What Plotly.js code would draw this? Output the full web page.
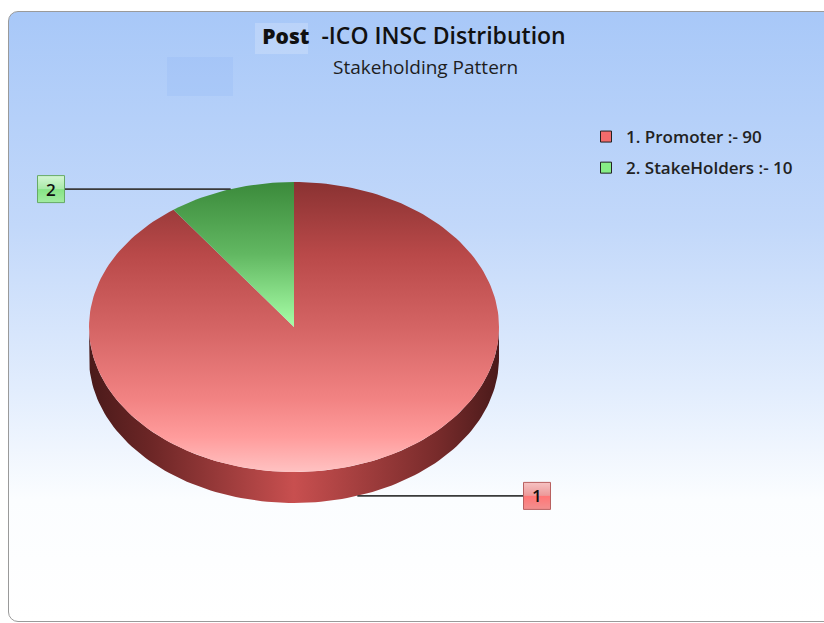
<!DOCTYPE html>
<html><head><meta charset="utf-8">
<script src="https://cdn.plot.ly/plotly-3.0.1.min.js"></script>
<style>
html,body{margin:0;padding:0;background:#fff;width:824px;height:623px;overflow:hidden}
#frame{position:absolute;left:8px;top:11px;width:840px;height:609px;border:1px solid #9a9a9a;border-radius:10px;
background:linear-gradient(to bottom,#a8c8f8 0%,#c2d8fa 35%,#e2edfd 62%,#fbfdff 80%,#ffffff 100%)}
#chart{position:absolute;left:0;top:0;width:824px;height:623px}
</style></head>
<body><div id="frame"></div><div id="chart"></div>
<script>
// ---- data ----
const categories = ['Promoter', 'StakeHolders'];
const values = [90, 10];
const sliceLabels = ['1', '2'];
const titleText = '<span style="font-size:21px;font-weight:800">Post</span>\u00A0 -ICO INSC Distribution';
const subtitleText = 'Stakeholding Pattern';

// ---- styles ----
const legendColors = ['#f26b6b', '#86ee86'];
const topScales = [
  [[0,'#8a3232'],[0.25,'#b94949'],[0.5,'#d46464'],[0.75,'#f28383'],[0.88,'#ff9c9c'],[1,'#ffc2c2']],
  [[0,'#3b8a3b'],[0.25,'#62b862'],[0.5,'#a8ffa8'],[1,'#ccffcc']]
];
const sideScales = [
  [[0,'#4a1a1a'],[0.15,'#6c2626'],[0.5,'#c84f4f'],[0.85,'#782b2b'],[1,'#4a1a1a']],
  [[0,'#1f4a1f'],[0.5,'#4fa04f'],[1,'#1f4a1f']]
];
const labelScales = [
  [[0,'#f6c2c2'],[0.48,'#ec9a9a'],[0.52,'#ff7676'],[1,'#f29090']],
  [[0,'#d4f6d4'],[0.48,'#aaeaaa'],[0.52,'#86e486'],[1,'#a2eca2']]
];
const labelBorder = ['#b86060', '#66aa66'];

// ---- geometry (pixel space) ----
const W = 824, H = 623;
const cx = 294, cy = 327, rx = 205, ry = 145, depth = 31;
const labelOffset = rx + 38;
const boxHalf = 13.5;

const total = values.reduce((a, b) => a + b, 0);
let acc = 0;
const slices = values.map(v => { const a0 = acc; acc += v / total * 360; return [a0, acc]; });
function pt(th, dy) { const r = th * Math.PI / 180; return [cx + rx * Math.sin(r), cy - ry * Math.cos(r) + (dy || 0)]; }
function arc(a0, a1, dy) {
  const n = Math.max(2, Math.ceil(Math.abs(a1 - a0) / 1.5));
  const xs = [], ys = [];
  for (let i = 0; i <= n; i++) { const p = pt(a0 + (a1 - a0) * i / n, dy); xs.push(p[0]); ys.push(p[1]); }
  return [xs, ys];
}

const traces = [];
// side faces (front half only)
slices.forEach((s, i) => {
  const a = Math.max(s[0], 90), b = Math.min(s[1], 270);
  if (b <= a) return;
  const top = arc(a, b, 0), bot = arc(b, a, depth);
  traces.push({
    type: 'scatter', mode: 'lines', x: top[0].concat(bot[0]), y: top[1].concat(bot[1]),
    fill: 'toself', line: {width: 0}, hoverinfo: 'skip', showlegend: false,
    fillgradient: {type: 'horizontal', colorscale: sideScales[i], start: cx - rx, stop: cx + rx}
  });
});
// top faces
slices.forEach((s, i) => {
  const a = arc(s[0], s[1], 0);
  traces.push({
    type: 'scatter', mode: 'lines', x: [cx].concat(a[0], [cx]), y: [cy].concat(a[1], [cy]),
    fill: 'toself', line: {width: 0}, hoverinfo: 'skip', showlegend: false,
    fillgradient: {type: 'vertical', colorscale: topScales[i], start: cy - ry, stop: cy + ry}
  });
});
// leader lines + labels
const annotations = [];
slices.forEach((s, i) => {
  const m = (s[0] + s[1]) / 2;
  const rad = m * Math.PI / 180;
  const front = Math.cos(rad) < 0;
  const p = pt(m, front ? depth : 0);
  const left = Math.sin(rad) < 0;
  const lx = left ? cx - labelOffset : cx + labelOffset;
  const edge = left ? lx + boxHalf : lx - boxHalf;
  traces.push({
    type: 'scatter', mode: 'lines', x: [p[0], edge], y: [p[1], p[1]],
    line: {color: '#3a3a3a', width: 1.6}, hoverinfo: 'skip', showlegend: false
  });
  traces.push({
    type: 'scatter', mode: 'lines',
    x: [lx - boxHalf, lx + boxHalf, lx + boxHalf, lx - boxHalf, lx - boxHalf],
    y: [p[1] - boxHalf, p[1] - boxHalf, p[1] + boxHalf, p[1] + boxHalf, p[1] - boxHalf],
    fill: 'toself', line: {color: labelBorder[i], width: 1}, hoverinfo: 'skip', showlegend: false,
    fillgradient: {type: 'vertical', colorscale: labelScales[i], start: p[1] - boxHalf, stop: p[1] + boxHalf}
  });
  annotations.push({
    x: lx, y: p[1], xref: 'x', yref: 'y', text: sliceLabels[i], showarrow: false,
    font: {family: 'Open Sans, sans-serif', size: 17, color: '#111', weight: 600}
  });
});
// legend entries
categories.forEach((c, i) => {
  traces.push({
    type: 'scatter', mode: 'markers', x: [null], y: [null],
    name: (i + 1) + '. ' + c + ' :- ' + values[i], legendgroup: 'g' + i,
    marker: {symbol: 'square', size: 11, color: legendColors[i], line: {color: '#222', width: 1}}
  });
});

annotations.push({
  xref: 'paper', yref: 'paper', x: 425 / W, y: 1 - 67 / H, xanchor: 'center', yanchor: 'middle',
  text: subtitleText, showarrow: false, font: {family: 'Open Sans, sans-serif', size: 19, color: '#1e1e1e'}
});

const layout = {
  width: W, height: H, margin: {l: 0, r: 0, t: 0, b: 0},
  paper_bgcolor: 'rgba(0,0,0,0)', plot_bgcolor: 'rgba(0,0,0,0)',
  title: {text: titleText, x: 414 / W, xanchor: 'center', y: 1 - 36 / H, yanchor: 'middle', yref: 'container',
          font: {family: 'Open Sans, sans-serif', size: 23, color: '#111', weight: 600}},
  xaxis: {range: [0, W], visible: false, fixedrange: true},
  yaxis: {range: [H, 0], visible: false, fixedrange: true},
  showlegend: true,
  legend: {x: 586 / W, y: 1 - 119 / H, xanchor: 'left', yanchor: 'top', bgcolor: 'rgba(0,0,0,0)',
           font: {family: 'Open Sans, sans-serif', size: 17, color: '#222', weight: 600}, tracegroupgap: 6, traceorder: 'grouped'},
  shapes: [
    {type: 'rect', xref: 'x', yref: 'y', x0: 167, x1: 233, y0: 57, y1: 96, line: {width: 0}, fillcolor: 'rgba(150,185,245,0.3)', layer: 'below'},
    {type: 'rect', xref: 'x', yref: 'y', x0: 255, x1: 308, y0: 23, y1: 54, line: {width: 0}, fillcolor: 'rgba(255,255,255,0.2)', layer: 'below'}
  ],
  annotations: annotations,
  hovermode: false
};
Plotly.newPlot('chart', traces, layout, {displayModeBar: false, staticPlot: true});
</script>
</body></html>
